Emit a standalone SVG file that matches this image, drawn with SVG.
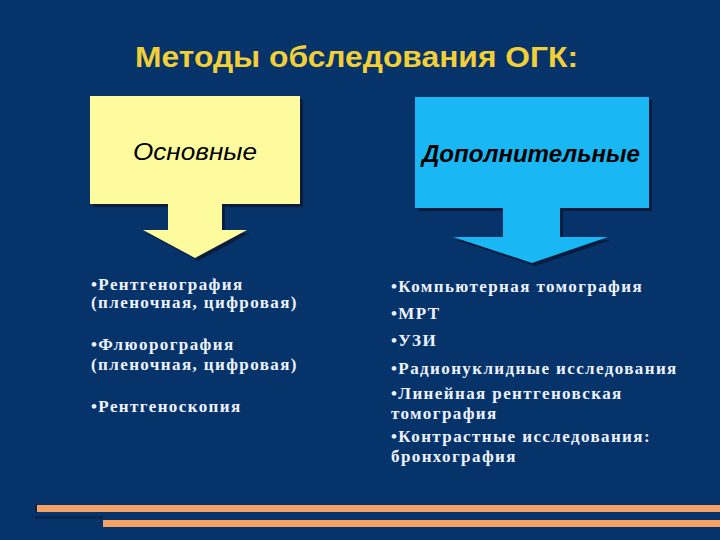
<svg xmlns="http://www.w3.org/2000/svg" width="720" height="540" viewBox="0 0 720 540">
<style>
.title{font-family:"Liberation Sans",Arial,sans-serif;font-weight:bold;font-size:29px;fill:#f2cf36}
.hdr{font-family:"Liberation Sans",Arial,sans-serif;font-style:italic;font-size:24px;fill:#000}
.item{font-family:"Liberation Serif","Times New Roman",serif;font-weight:bold;font-size:17px;letter-spacing:1.4px;fill:#eef3ff}
.shadow{fill:#0a1d3f}
.bar{fill:#f5a064}
</style>
<rect width="720" height="540" fill="#06336a"/>
<text class="title" x="135" y="67" textLength="443" lengthAdjust="spacingAndGlyphs">Методы обследования ОГК:</text>
<g id="node-main">
<path class="shadow" d="M93,99 H303 V207 H225 V233 H250 L198,261 L146,233 H171 V207 H93 Z"/>
<path fill="#fdfb9e" d="M90,96 H300 V204 H222 V230 H247 L195,258 L143,230 H168 V204 H90 Z"/>
<text class="hdr" x="133" y="160" textLength="124" lengthAdjust="spacingAndGlyphs">Основные</text>
</g>
<g id="node-extra">
<path class="shadow" d="M418,100 H652 V211 H563 V240 H611 L535,266 L456,240 H506 V211 H418 Z"/>
<path fill="#19b7f4" d="M415,97 H649 V208 H560 V237 H608 L532,263 L453,237 H503 V208 H415 Z"/>
<text class="hdr" x="422" y="162" font-weight="bold" textLength="218" lengthAdjust="spacingAndGlyphs">Дополнительные</text>
</g>
<g id="list-main">
<text class="item" x="91" y="290">•Рентгенография</text>
<text class="item" x="91" y="308">(пленочная, цифровая)</text>
<text class="item" x="91" y="350">•Флюорография</text>
<text class="item" x="91" y="370">(пленочная, цифровая)</text>
<text class="item" x="91" y="412">•Рентгеноскопия</text>
</g>
<g id="list-extra">
<text class="item" x="391" y="292">•Компьютерная томография</text>
<text class="item" x="391" y="319">•МРТ</text>
<text class="item" x="391" y="346">•УЗИ</text>
<text class="item" x="391" y="374">•Радионуклидные исследования</text>
<text class="item" x="391" y="399">•Линейная рентгеновская</text>
<text class="item" x="391" y="419">томография</text>
<text class="item" x="391" y="442">•Контрастные исследования:</text>
<text class="item" x="391" y="462">бронхография</text>
</g>
<g id="connectors"></g>
<rect x="35" y="504" width="3" height="9" fill="#0a2550"/>
<rect class="bar" x="37" y="505" width="683" height="7"/>
<rect x="35" y="516" width="68" height="3" fill="#0a2550"/>
<rect class="bar" x="103" y="520" width="617" height="7"/>
</svg>
